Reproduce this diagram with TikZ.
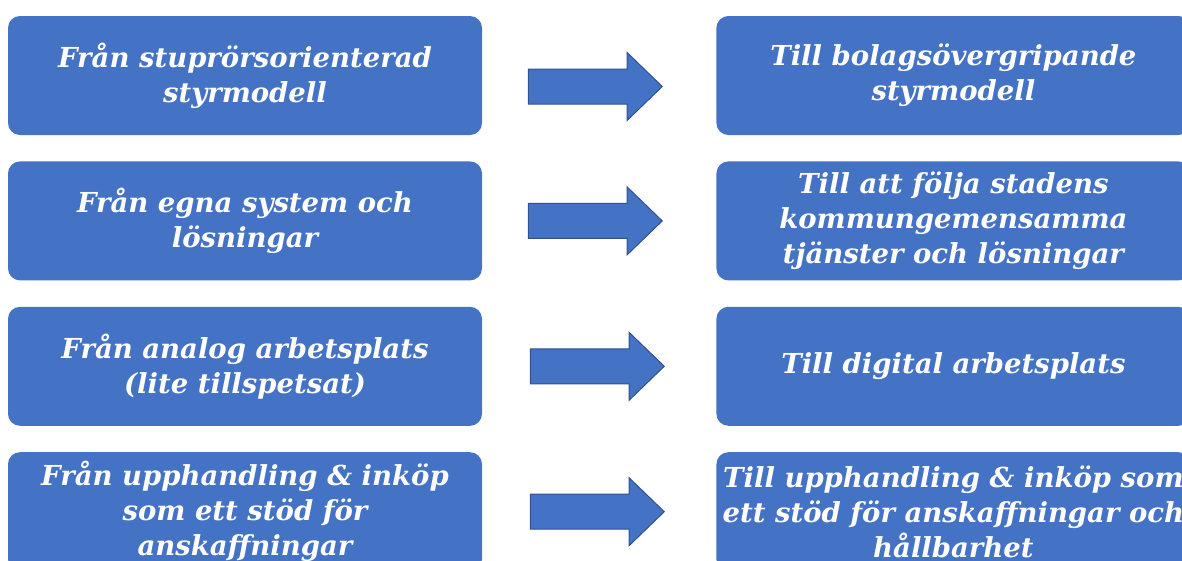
\documentclass[tikz,border=0pt]{standalone}
\usepackage{fontspec}
\setmainfont{DejaVu Serif}
\usetikzlibrary{positioning,calc,shapes.arrows}
\definecolor{boxblue}{RGB}{68,114,196}
\definecolor{arrline}{RGB}{47,82,143}
\tikzset{
  card/.style={fill=boxblue, rounded corners=12pt, align=center, text=white,
               minimum width=474pt, minimum height=119pt, inner sep=4pt,
               font=\bfseries\itshape\fontsize{27.5}{35}\selectfont},
  bigarr/.style={single arrow, fill=boxblue, draw=arrline, line width=1pt,
               minimum height=134pt, inner xsep=0pt, inner ysep=17pt,
               single arrow head extend=16.5pt, single arrow tip angle=88},
}
\begin{document}
\begin{tikzpicture}[x=1pt, y=1pt, node distance=26pt and 234pt]
  \useasboundingbox (0,0) rectangle (1182,-560);
  \clip (0,0) rectangle (1182,-560);

  % from
  \node[card] (fr1) at (245,-75.5) {Från stuprörsorienterad\\ styrmodell};
  \node[card, below=of fr1] (fr2) {Från egna system och\\ lösningar};
  \node[card, below=of fr2] (fr3) {Från analog arbetsplats\\ (lite tillspetsat)};
  \node[card, below=of fr3] (fr4) {Från upphandling \& inköp\\ som ett stöd för\\ anskaffningar};

  % to
  \node[card, right=of fr1] (to1) {Till bolagsövergripande\\ styrmodell};
  \node[card, right=of fr2] (to2) {Till att följa stadens\\ kommungemensamma\\ tjänster och lösningar};
  \node[card, right=of fr3] (to3) {Till digital arbetsplats};
  \node[card, right=of fr4] (to4) {Till upphandling \& inköp som\\ ett stöd för anskaffningar och\\ hållbarhet};

  % block arrows
  \node[bigarr, xshift=-13pt, yshift=-11pt] (ar1) at ($(fr1.east)!0.5!(to1.west)$) {};
  \node[bigarr, xshift=-13pt] (ar2) at ($(fr2.east)!0.5!(to2.west)$) {};
  \node[bigarr, xshift=-11pt] (ar3) at ($(fr3.east)!0.5!(to3.west)$) {};
  \node[bigarr, xshift=-11pt] (ar4) at ($(fr4.east)!0.5!(to4.west)$) {};
\end{tikzpicture}
\end{document}
